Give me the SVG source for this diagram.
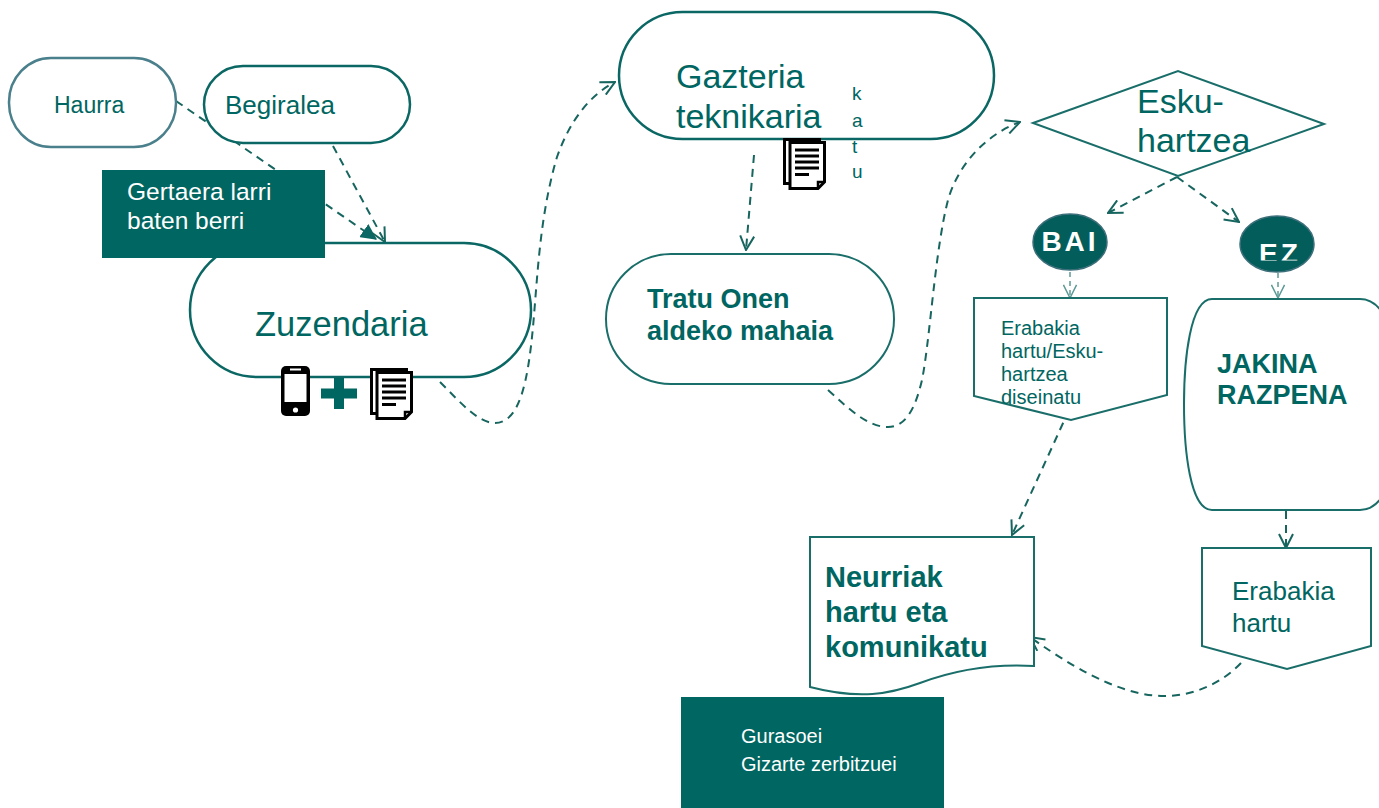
<svg xmlns="http://www.w3.org/2000/svg" width="1379" height="808" viewBox="0 0 1379 808">
<style>
.box{fill:#fff;stroke:#0b6764;stroke-width:2.5}
.thin{fill:#fff;stroke:#1a6e6a;stroke-width:2}
.t{font-family:"Liberation Sans",Arial,sans-serif;fill:#006661}
.b{font-weight:bold}
.w{fill:#fff}
.con{fill:none;stroke:#17655f;stroke-width:2;stroke-dasharray:8 6}
.light{fill:none;stroke:#5f9a97;stroke-width:1.5;stroke-dasharray:5 4}
</style>
<defs>
<marker id="open" viewBox="0 0 16 16" refX="15" refY="8" markerWidth="16" markerHeight="16" markerUnits="userSpaceOnUse" orient="auto"><path d="M1,1 L15,8 L1,15" fill="none" stroke="#17655f" stroke-width="2"/></marker>
<marker id="openL" viewBox="0 0 16 16" refX="15" refY="8" markerWidth="15" markerHeight="15" markerUnits="userSpaceOnUse" orient="auto"><path d="M1,1 L15,8 L1,15" fill="none" stroke="#5f9a97" stroke-width="1.6"/></marker>
<marker id="fill" viewBox="0 0 14 14" refX="13" refY="7" markerWidth="16" markerHeight="16" markerUnits="userSpaceOnUse" orient="auto"><path d="M0,0 L14,7 L0,14 Z" fill="#0b6764"/></marker>
<g id="doc">
<rect x="1.5" y="1.5" width="35" height="44" fill="#fff" stroke="#000" stroke-width="3"/>
<path d="M7,4.5 H41.5 V44 L35,50.5 H7 Z" fill="#fff" stroke="#000" stroke-width="3" stroke-linejoin="miter"/>
<path d="M35,50.5 V44 H41.5" fill="none" stroke="#000" stroke-width="2.5"/>
<path d="M12,12 H36 M12,18 H36 M12,24 H36 M12,30 H36 M12,36.5 H26" stroke="#000" stroke-width="3"/>
</g>
<clipPath id="ezclip"><rect x="1230" y="200" width="100" height="60.5"/></clipPath>
</defs>

<g id="connectors">
<path class="con" d="M176,101 L376,239" stroke-dasharray="12 7" marker-end="url(#fill)"/>
<path class="con" d="M333,146 L385,242" marker-end="url(#open)"/>
<path class="con" d="M440,382 C460,402 478,423 495,423 C520,423 528,380 533,327 C538,270 540,215 557,157 C570,120 590,95 615,82" marker-end="url(#open)"/>
<path class="con" d="M754,155 L746,250" marker-end="url(#open)"/>
<path class="con" d="M828,390 C850,410 868,427 888,427 C905,427 915,410 922,380 C930,340 935,250 948,200 C958,165 985,135 1020,122" marker-end="url(#open)"/>
<path class="con" d="M1177,177 L1108,213" marker-end="url(#open)"/>
<path class="con" d="M1177,177 L1239,222" marker-end="url(#open)"/>
<path class="light" d="M1070,272 L1070,298" marker-end="url(#openL)"/>
<path class="light" d="M1278,273 L1278,298" marker-end="url(#openL)"/>
<path class="con" d="M1069,410 L1012,535" marker-end="url(#open)"/>
<path class="con" d="M1286,511 L1286,548" marker-end="url(#open)"/>
<path class="con" d="M1241,663 C1220,685 1190,697 1161,696 C1130,695 1090,680 1030,637" marker-end="url(#open)"/>
</g>

<g id="haurra">
<rect x="9" y="58" width="167" height="89" rx="42" ry="44" fill="#fff" stroke="#4a7f8c" stroke-width="2.5"/>
<text class="t" x="54" y="113" font-size="23">Haurra</text>
</g>

<g id="begiralea">
<rect class="box" x="204" y="66" width="206" height="77" rx="39"/>
<text class="t" x="225" y="114" font-size="26">Begiralea</text>
</g>

<g id="zuzendaria">
<rect class="box" x="190" y="243" width="341" height="134" rx="67"/>
<text class="t" x="255" y="336" font-size="34.5">Zuzendaria</text>
<rect x="281" y="366" width="29" height="50" rx="5" fill="#000"/>
<rect x="284.5" y="374" width="22" height="28" fill="#fff"/>
<path d="M290,369.5 H301" stroke="#fff" stroke-width="2"/>
<circle cx="295.5" cy="410" r="2.6" fill="#fff"/>
<path d="M321,393.5 H357 M339,378 V409" stroke="#006661" stroke-width="10"/>
<use href="#doc" x="370" y="368"/>
</g>

<g id="gertaera">
<rect x="102" y="170" width="223" height="88" fill="#006661"/>
<text class="t w" x="127" y="200" font-size="24.5">Gertaera larri</text>
<text class="t w" x="127" y="229" font-size="24.5">baten berri</text>
</g>

<g id="gazteria">
<rect class="box" x="619" y="12" width="375" height="127" rx="63.5"/>
<text class="t" x="676" y="88" font-size="34">Gazteria</text>
<text class="t" x="676" y="128" font-size="34">teknikaria</text>
<use href="#doc" x="783" y="138"/>
<text class="t" x="852" y="100" font-size="19">k</text>
<text class="t" x="852" y="127" font-size="19">a</text>
<text class="t" x="852" y="153" font-size="19">t</text>
<text class="t" x="852" y="178" font-size="19">u</text>
</g>

<g id="tratu">
<rect class="thin" x="606" y="254" width="288" height="130" rx="65"/>
<text class="t b" x="647" y="308" font-size="27">Tratu Onen</text>
<text class="t b" x="647" y="340" font-size="27">aldeko mahaia</text>
</g>

<g id="eskuhartzea">
<polygon class="thin" points="1033,123 1178,71 1324,124 1178,176"/>
<text class="t" x="1137" y="113" font-size="34">Esku-</text>
<text class="t" x="1137" y="152" font-size="34">hartzea</text>
</g>

<g id="bai">
<ellipse cx="1070" cy="242" rx="37" ry="28" fill="#035d5a" stroke="#3d6f7a" stroke-width="1.5"/>
<text class="t b w" x="1070" y="251" font-size="28" letter-spacing="3" text-anchor="middle">BAI</text>
</g>

<g id="ez">
<ellipse cx="1277" cy="244" rx="37" ry="28" fill="#035d5a" stroke="#3d6f7a" stroke-width="1.5"/>
<text class="t b w" x="1280" y="263" font-size="28" letter-spacing="3" text-anchor="middle" clip-path="url(#ezclip)">EZ</text>
</g>

<g id="erabakia1">
<polygon class="thin" points="974,298 1167,298 1167,395 1071,420 974,396"/>
<text class="t" x="1001" y="335" font-size="20">Erabakia</text>
<text class="t" x="1001" y="358" font-size="20">hartu/Esku-</text>
<text class="t" x="1001" y="381" font-size="20">hartzea</text>
<text class="t" x="1001" y="404" font-size="20">diseinatu</text>
</g>

<g id="jakinarazpena">
<path class="thin" d="M1212,299 H1360 C1392,299 1400,360 1400,404 C1400,450 1392,510 1360,510 H1212 C1190,510 1184,450 1184,404 C1184,360 1190,299 1212,299 Z"/>
<text class="t b" x="1217" y="373" font-size="27">JAKINA</text>
<text class="t b" x="1217" y="404" font-size="27">RAZPENA</text>
</g>

<g id="erabakia2">
<polygon class="thin" points="1202,548 1371,548 1371,646 1287,669 1202,646"/>
<text class="t" x="1232" y="600" font-size="26">Erabakia</text>
<text class="t" x="1232" y="632" font-size="26">hartu</text>
</g>

<g id="neurriak">
<path class="thin" d="M810,537 H1034 V666 C1000,664 960,668 920,683 C890,694 860,700 810,687 Z"/>
<text class="t b" x="825" y="587" font-size="29">Neurriak</text>
<text class="t b" x="825" y="622" font-size="29">hartu eta</text>
<text class="t b" x="825" y="657" font-size="29">komunikatu</text>
</g>

<g id="gurasoei">
<rect x="681" y="697" width="263" height="115" fill="#006661"/>
<text class="t w" x="741" y="743" font-size="20">Gurasoei</text>
<text class="t w" x="741" y="771" font-size="20">Gizarte zerbitzuei</text>
</g>
</svg>
